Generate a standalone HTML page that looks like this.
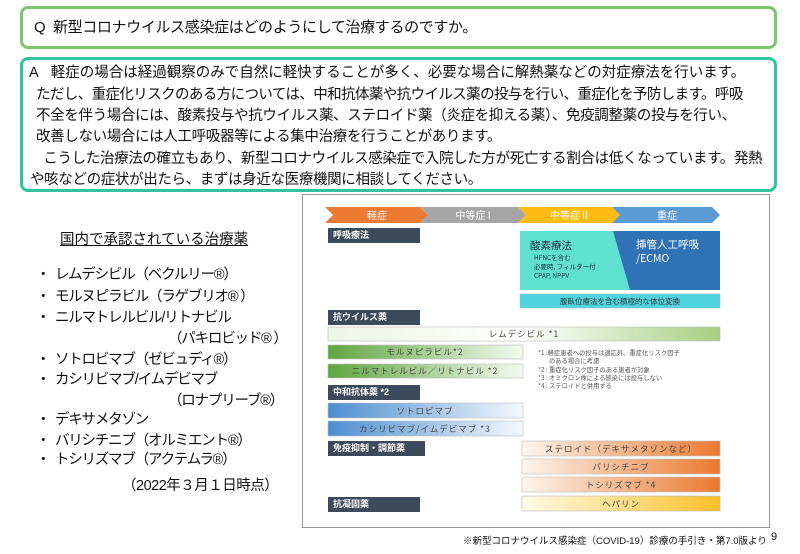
<!DOCTYPE html>
<html><head><meta charset="utf-8"><style>
*{margin:0;padding:0;box-sizing:border-box}
body{width:800px;height:554px;background:#fff;position:relative;overflow:hidden;font-family:"Liberation Sans","Noto Sans CJK JP",sans-serif;color:#111}
.a{position:absolute;white-space:nowrap}
.qbox{position:absolute;left:20px;top:6px;width:757px;height:43px;border:3px solid #7cc56c;border-radius:8px}
.abox{position:absolute;left:20px;top:57px;width:757px;height:135px;border:3px solid #2fc49e;border-radius:8px}
.t{font-size:14.5px;letter-spacing:-0.35px;line-height:21px}
.li{font-size:14.5px;line-height:20px;letter-spacing:-1.2px}
.lab{position:absolute;background:#3d4a5c;color:#fff;font-size:9px;font-weight:bold;padding-left:5px;line-height:15px;height:15px}
</style></head><body>
<div class="qbox"></div>
<div class="a t" style="left:34px;top:17px;font-size:15px">Q&nbsp;&nbsp;新型コロナウイルス感染症はどのようにして治療するのですか。</div>
<div class="abox"></div>
<div class="a t" style="left:29px;top:63px;letter-spacing:0px">A&nbsp;&nbsp;&nbsp;軽症の場合は経過観察のみで自然に軽快することが多く、必要な場合に解熱薬などの対症療法を行います。</div>
<div class="a t" style="left:36px;top:85px;letter-spacing:-0.6px">ただし、重症化リスクのある方については、中和抗体薬や抗ウイルス薬の投与を行い、重症化を予防します。呼吸</div>
<div class="a t" style="left:36px;top:106px">不全を伴う場合には、酸素投与や抗ウイルス薬、ステロイド薬（炎症を抑える薬）、免疫調整薬の投与を行い、</div>
<div class="a t" style="left:36px;top:127px">改善しない場合には人工呼吸器等による集中治療を行うことがあります。</div>
<div class="a t" style="left:36px;top:149px">&nbsp;&nbsp;こうした治療法の確立もあり、新型コロナウイルス感染症で入院した方が死亡する割合は低くなっています。発熱</div>
<div class="a t" style="left:30px;top:170px">や咳などの症状が出たら、まずは身近な医療機関に相談してください。</div>

<div class="a" style="left:60px;top:230px;text-decoration:underline;font-size:14.5px;line-height:20px">国内で承認されている治療薬</div>
<div class="a li" style="left:36px;top:265px">・&nbsp;&nbsp;レムデシビル（ベクルリー®）</div>
<div class="a li" style="left:36px;top:287px">・&nbsp;&nbsp;モルヌピラビル（ラゲブリオ® ）</div>
<div class="a li" style="left:36px;top:308px">・&nbsp;&nbsp;ニルマトレルビル/リトナビル</div>
<div class="a li" style="left:168px;top:329px">（パキロビッド® ）</div>
<div class="a li" style="left:36px;top:350px">・&nbsp;&nbsp;ソトロビマブ（ゼビュディ®）</div>
<div class="a li" style="left:36px;top:370px">・&nbsp;&nbsp;カシリビマブ/イムデビマブ</div>
<div class="a li" style="left:168px;top:391px">（ロナプリーブ®）</div>
<div class="a li" style="left:36px;top:410px">・&nbsp;&nbsp;デキサメタゾン</div>
<div class="a li" style="left:36px;top:431px">・&nbsp;&nbsp;バリシチニブ（オルミエント®）</div>
<div class="a li" style="left:36px;top:450px">・&nbsp;&nbsp;トシリズマブ（アクテムラ®）</div>
<div class="a li" style="left:122px;top:476px;letter-spacing:-0.5px">（2022年３月１日時点）</div>

<div class="a" style="left:302px;top:194px;width:468px;height:334px;border:1px solid #999;background:#fff"></div>
<svg class="a" style="left:0;top:0" width="800" height="554">
<polygon points="325,207 420,207 428,215 420,223 325,223 333,215" fill="#ec7a32"/>
<polygon points="420,207 518,207 526,215 518,223 420,223 428,215" fill="#a6a6a6"/>
<polygon points="518,207 612,207 620,215 612,223 518,223 526,215" fill="#fdbc12"/>
<polygon points="612,207 712,207 720,215 712,223 612,223 620,215" fill="#5b9bd5"/>
<text x="377" y="219" font-size="10" fill="#fff" text-anchor="middle" font-family="Noto Sans CJK JP">軽症</text>
<text x="473" y="219" font-size="10" fill="#fff" text-anchor="middle" font-family="Noto Sans CJK JP">中等症 I</text>
<text x="569" y="219" font-size="10" fill="#fff" text-anchor="middle" font-family="Noto Sans CJK JP">中等症 II</text>
<text x="667" y="219" font-size="10" fill="#fff" text-anchor="middle" font-family="Noto Sans CJK JP">重症</text>
<rect x="520" y="231" width="200" height="59" fill="#5fe0d0"/>
<polygon points="613,231 720,231 720,290 630,290" fill="#2f72b6"/>
<text x="530" y="249" font-size="10.5" fill="#234" font-family="Noto Sans CJK JP">酸素療法</text>
<text x="534" y="260" font-size="6.5" fill="#234" font-family="Noto Sans CJK JP">HFNCを含む</text>
<text x="534" y="269" font-size="6.5" fill="#234" font-family="Noto Sans CJK JP">必要時, フィルター付</text>
<text x="534" y="278" font-size="6.5" fill="#234" font-family="Noto Sans CJK JP">CPAP, NPPV</text>
<text x="636" y="248" font-size="10.5" fill="#fff" font-family="Noto Sans CJK JP">挿管人工呼吸</text>
<text x="636" y="262" font-size="10.5" fill="#fff" font-family="Noto Sans CJK JP">/ECMO</text>
<rect x="520" y="294" width="200" height="14" fill="#4fd4e0" stroke="#9bb" stroke-width="0.5"/>
<text x="620" y="304" font-size="7.5" fill="#333" text-anchor="middle" font-family="Noto Sans CJK JP">腹臥位療法を含む積極的な体位変換</text>
<defs>
<linearGradient id="g1"><stop offset="0" stop-color="#eef5e5"/><stop offset="0.5" stop-color="#fff"/><stop offset="1" stop-color="#a5cf80"/></linearGradient>
<linearGradient id="g2"><stop offset="0" stop-color="#5fa63e"/><stop offset="1" stop-color="#f4f9ef"/></linearGradient>
<linearGradient id="g3"><stop offset="0" stop-color="#4c8ed0"/><stop offset="1" stop-color="#f4f8fd"/></linearGradient>
<linearGradient id="g4"><stop offset="0" stop-color="#fdf5ee"/><stop offset="1" stop-color="#ea7a30"/></linearGradient>
<linearGradient id="g5"><stop offset="0" stop-color="#fffbe8"/><stop offset="1" stop-color="#fbbf28"/></linearGradient>
</defs>
<rect x="328" y="327" width="392" height="14" fill="url(#g1)" stroke="#bbb" stroke-width="0.6"/>
<rect x="328" y="345" width="195" height="14" fill="url(#g2)" stroke="#bbb" stroke-width="0.6"/>
<rect x="328" y="364" width="195" height="14" fill="url(#g2)" stroke="#bbb" stroke-width="0.6"/>
<rect x="328" y="403" width="195" height="15" fill="url(#g3)" stroke="#bbb" stroke-width="0.6"/>
<rect x="328" y="421" width="195" height="15" fill="url(#g3)" stroke="#bbb" stroke-width="0.6"/>
<rect x="522" y="441" width="198" height="15" fill="url(#g4)" stroke="#bbb" stroke-width="0.6"/>
<rect x="522" y="459" width="198" height="15" fill="url(#g4)" stroke="#bbb" stroke-width="0.6"/>
<rect x="522" y="477" width="198" height="15" fill="url(#g4)" stroke="#bbb" stroke-width="0.6"/>
<rect x="522" y="496" width="198" height="15" fill="url(#g5)" stroke="#bbb" stroke-width="0.6"/>
<g font-size="8.5" fill="#444" text-anchor="middle" font-family="Noto Sans CJK JP" letter-spacing="1">
<text x="524" y="337">レムデシビル *1</text>
<text x="425" y="355">モルヌピラビル*2</text>
<text x="425" y="374">ニルマトレルビル／リトナビル *2</text>
<text x="425" y="414">ソトロビマブ</text>
<text x="425" y="432">カシリビマブ/イムデビマブ *3</text>
<text x="621" y="452">ステロイド（デキサメタゾンなど）</text>
<text x="621" y="470">バリシチニブ</text>
<text x="621" y="488">トシリズマブ *4</text>
<text x="621" y="507">ヘパリン</text>
</g>
<g font-size="6.3" fill="#555" font-family="Noto Sans CJK JP">
<text x="538" y="355">*1 :軽症患者への投与は適応外、重症化リスク因子</text>
<text x="549" y="363">のある場合に考慮</text>
<text x="538" y="372">*2 : 重症化リスク因子のある患者が対象</text>
<text x="538" y="380">*3 : オミクロン株による感染には投与しない</text>
<text x="538" y="388">*4 : ステロイドと併用する</text>
</g>
</svg>
<div class="lab" style="left:328px;top:228px;width:92px">呼吸療法</div>
<div class="lab" style="left:328px;top:310px;width:92px">抗ウイルス薬</div>
<div class="lab" style="left:328px;top:385px;width:92px">中和抗体薬 *2</div>
<div class="lab" style="left:328px;top:441px;width:97px">免疫抑制・調節薬</div>
<div class="lab" style="left:328px;top:497px;width:92px">抗凝固薬</div>

<div class="a" style="left:463px;top:533px;font-size:9.5px">※新型コロナウイルス感染症（COVID-19）診療の手引き・第7.0版より</div>
<div class="a" style="left:771px;top:531px;font-size:11px">9</div>
</body></html>
